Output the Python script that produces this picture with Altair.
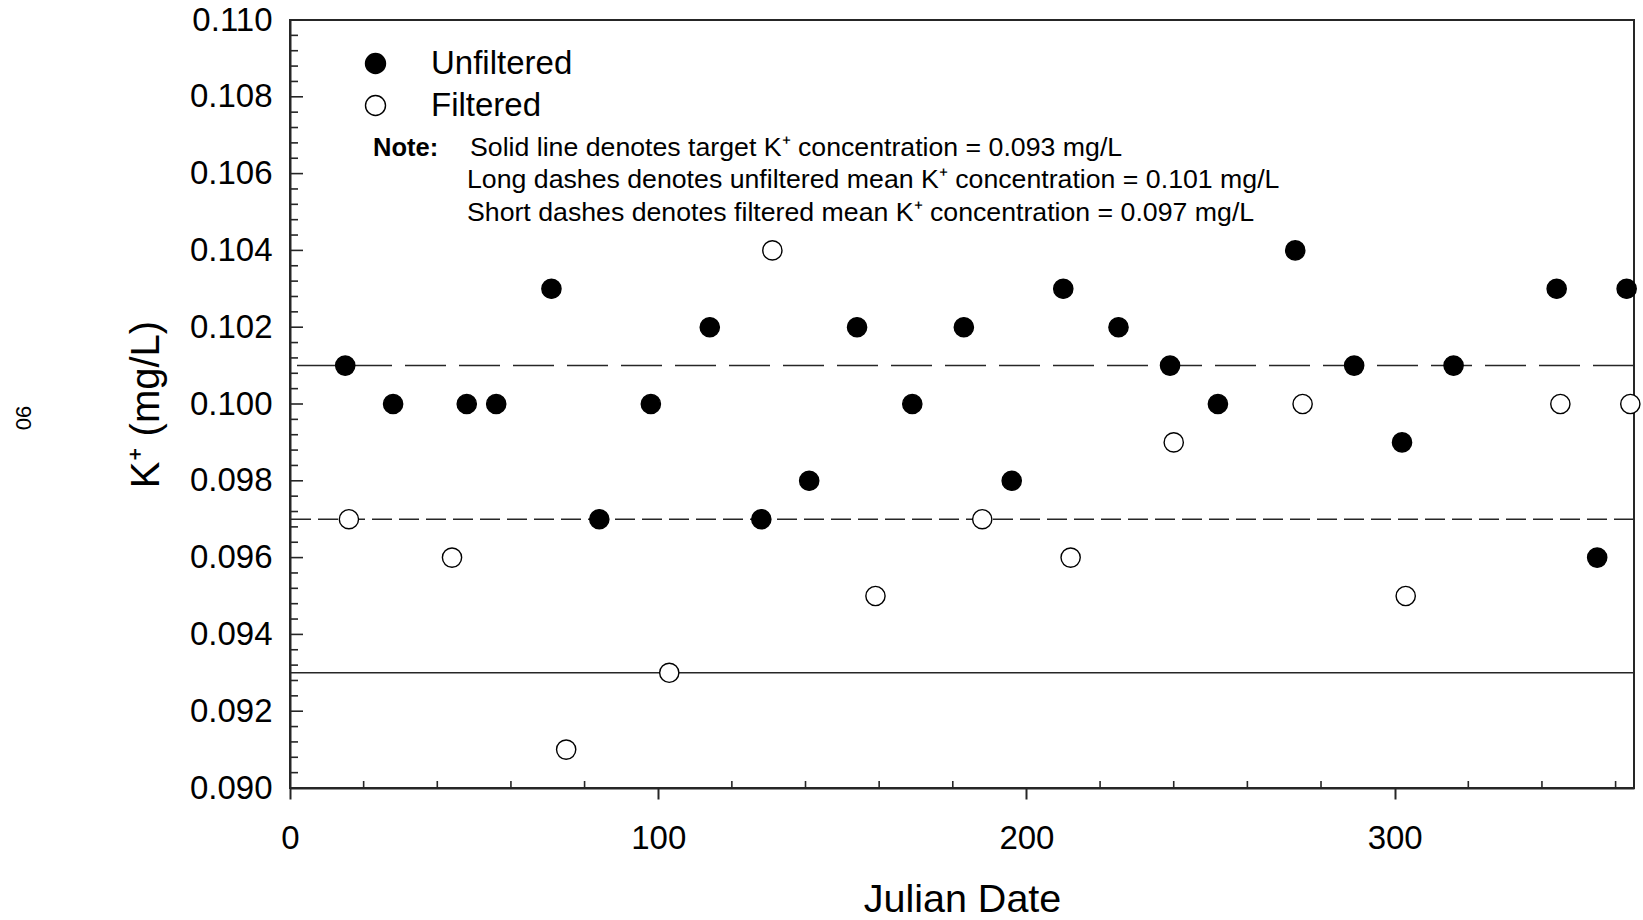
import altair as alt
import pandas as pd

# K+ concentrations (mg/L) by Julian date
unfiltered_day = [15, 28, 48, 56, 71, 84, 98, 114, 128, 141, 154, 169, 183,
                  196, 210, 225, 239, 252, 273, 289, 302, 316, 344, 355, 363]
unfiltered_k = [0.101, 0.100, 0.100, 0.100, 0.103, 0.097, 0.100, 0.102, 0.097,
                0.098, 0.102, 0.100, 0.102, 0.098, 0.103, 0.102, 0.101, 0.100,
                0.104, 0.101, 0.099, 0.101, 0.103, 0.096, 0.103]
filtered_day = [16, 44, 75, 103, 131, 159, 188, 212, 240, 275, 303, 345, 364]
filtered_k = [0.097, 0.096, 0.091, 0.093, 0.104, 0.095, 0.097, 0.096, 0.099,
              0.100, 0.095, 0.100, 0.100]

TARGET_K = 0.093
UNFILTERED_MEAN = 0.101
FILTERED_MEAN = 0.097

x_ticks = [0, 100, 200, 300]
y_ticks = [0.090, 0.092, 0.094, 0.096, 0.098, 0.100, 0.102, 0.104, 0.106, 0.108, 0.110]
x_minor = [d for d in range(20, 361, 20) if d % 100 != 0]
y_minor = [round(0.090 + i * 0.0004, 4) for i in range(1, 50) if i % 5 != 0]

W, H = 1344, 768
FONT = "Liberation Sans"
INK = "#262626"

xs = alt.Scale(domain=[0, 365], nice=False, zero=False)
ys = alt.Scale(domain=[0.090, 0.110], nice=False, zero=False)

points = pd.DataFrame({
    "day": unfiltered_day + filtered_day,
    "k": unfiltered_k + filtered_k,
    "sample": ["Unfiltered"] * len(unfiltered_day) + ["Filtered"] * len(filtered_day),
})

x_axis = alt.Axis(
    values=x_ticks, format="d", ticks=True, tickSize=11, tickWidth=2, tickColor=INK,
    domainColor=INK, domainWidth=2, grid=False,
    labelFont=FONT, labelFontSize=33, labelColor="black", labelPadding=23,
    labelFlush=False, labelOverlap=False,
    title="Julian Date", titleFont=FONT, titleFontSize=39.5, titleFontWeight="normal",
    titleColor="black", titleBaseline="alphabetic", titleY=123,
)
y_axis = alt.Axis(
    values=y_ticks, format=".3f", ticks=False,
    domainColor=INK, domainWidth=2, grid=False,
    labelFont=FONT, labelFontSize=33, labelColor="black", labelPadding=18,
    labelFlush=False, labelOverlap=False,
    title="K⁺ (mg/L)", titleFont=FONT, titleFontSize=40, titleFontWeight="normal",
    titleColor="black", titleAngle=-90, titleAlign="center",
    titleBaseline="alphabetic", titleX=-132, titleY=H / 2,
)

X = alt.X("day:Q", scale=xs, axis=x_axis)
Y = alt.Y("k:Q", scale=ys, axis=y_axis)

scatter = alt.Chart(points).mark_point(
    shape="circle", filled=True, size=370, stroke="black", strokeWidth=1.4, opacity=1
).encode(
    x=X,
    y=Y,
    fill=alt.Fill(
        "sample:N",
        scale=alt.Scale(domain=["Unfiltered", "Filtered"], range=["black", "white"]),
        legend=alt.Legend(
            orient="none", legendX=69, legendY=27, title=None, direction="vertical",
            labelFont=FONT, labelFontSize=33, labelColor="black", labelLimit=0,
            symbolType="circle", symbolSize=400, symbolStrokeColor="black",
            symbolStrokeWidth=1.4, labelOffset=39, rowPadding=8, padding=0,
        ),
    ),
)


def hline(value, dash=None):
    style = {"strokeDash": dash} if dash else {}
    return alt.Chart(pd.DataFrame({"k": [value]})).mark_rule(
        color=INK, strokeWidth=1.5, **style
    ).encode(y=Y)


def y_tick_marks(values, length):
    return alt.Chart(pd.DataFrame({"k": values})).mark_rule(
        color=INK, strokeWidth=1.6
    ).encode(y=Y, x=alt.value(0), x2=alt.value(length))


def x_tick_marks(values, length):
    return alt.Chart(pd.DataFrame({"day": values})).mark_rule(
        color=INK, strokeWidth=1.6
    ).encode(x=X, y=alt.value(H), y2=alt.value(H - length))


def text(t, x, y, size, weight="normal", align="left", angle=0):
    return alt.Chart(pd.DataFrame({"t": [t]})).mark_text(
        align=align, baseline="middle", font=FONT, fontSize=size,
        fontWeight=weight, angle=angle, color="black",
    ).encode(text="t:N", x=alt.value(x), y=alt.value(y))


notes = [
    text("Note:", 83, 128, 25.5, weight="bold"),
    text(f"Solid line denotes target K⁺ concentration = {TARGET_K:.3f} mg/L", 180, 128, 26.7),
    text(f"Long dashes denotes unfiltered mean K⁺ concentration = {UNFILTERED_MEAN:.3f} mg/L", 177, 160, 26.7),
    text(f"Short dashes denotes filtered mean K⁺ concentration = {FILTERED_MEAN:.3f} mg/L", 177, 193, 26.7),
    text("90", -267, 398, 22, align="center", angle=90),
]

chart = alt.layer(
    hline(TARGET_K),
    hline(UNFILTERED_MEAN, [41, 13]),
    hline(FILTERED_MEAN, [20, 7]),
    y_tick_marks(y_minor, 8),
    y_tick_marks(y_ticks, 13),
    x_tick_marks(x_minor, 7),
    scatter,
    *notes,
).properties(
    width=W,
    height=H,
    autosize=alt.AutoSizeParams(type="none"),
    padding={"left": 290, "top": 20, "right": 9, "bottom": 132},
).configure_view(stroke=INK, strokeWidth=2)

chart.save("out.html", embed_options={"renderer": "svg", "actions": False})
